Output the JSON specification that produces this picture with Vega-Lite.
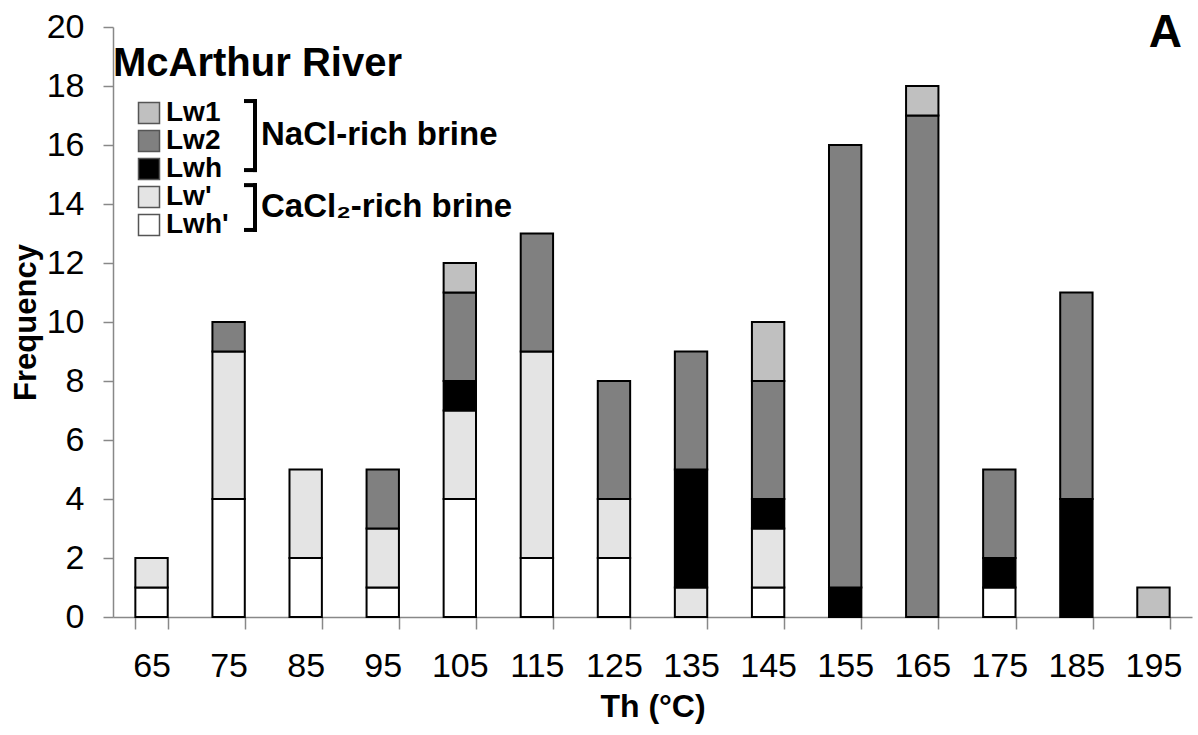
{
  "$schema": "https://vega.github.io/schema/vega-lite/v6.json",
  "width": 1079,
  "height": 590,
  "autosize": {"type": "none"},
  "padding": {"left": 113, "top": 27, "right": 6, "bottom": 118},
  "background": "white",
  "config": {"view": {"stroke": null}, "font": "Liberation Sans"},
  "datasets": {
    "counts": [
      {"th": 65, "type": "Lwh'", "brine": "CaCl2", "n": 1}, {"th": 65, "type": "Lw'", "brine": "CaCl2", "n": 1},
      {"th": 75, "type": "Lwh'", "brine": "CaCl2", "n": 4}, {"th": 75, "type": "Lw'", "brine": "CaCl2", "n": 5}, {"th": 75, "type": "Lw2", "brine": "NaCl", "n": 1},
      {"th": 85, "type": "Lwh'", "brine": "CaCl2", "n": 2}, {"th": 85, "type": "Lw'", "brine": "CaCl2", "n": 3},
      {"th": 95, "type": "Lwh'", "brine": "CaCl2", "n": 1}, {"th": 95, "type": "Lw'", "brine": "CaCl2", "n": 2}, {"th": 95, "type": "Lw2", "brine": "NaCl", "n": 2},
      {"th": 105, "type": "Lwh'", "brine": "CaCl2", "n": 4}, {"th": 105, "type": "Lw'", "brine": "CaCl2", "n": 3}, {"th": 105, "type": "Lwh", "brine": "NaCl", "n": 1}, {"th": 105, "type": "Lw2", "brine": "NaCl", "n": 3}, {"th": 105, "type": "Lw1", "brine": "NaCl", "n": 1},
      {"th": 115, "type": "Lwh'", "brine": "CaCl2", "n": 2}, {"th": 115, "type": "Lw'", "brine": "CaCl2", "n": 7}, {"th": 115, "type": "Lw2", "brine": "NaCl", "n": 4},
      {"th": 125, "type": "Lwh'", "brine": "CaCl2", "n": 2}, {"th": 125, "type": "Lw'", "brine": "CaCl2", "n": 2}, {"th": 125, "type": "Lw2", "brine": "NaCl", "n": 4},
      {"th": 135, "type": "Lw'", "brine": "CaCl2", "n": 1}, {"th": 135, "type": "Lwh", "brine": "NaCl", "n": 4}, {"th": 135, "type": "Lw2", "brine": "NaCl", "n": 4},
      {"th": 145, "type": "Lwh'", "brine": "CaCl2", "n": 1}, {"th": 145, "type": "Lw'", "brine": "CaCl2", "n": 2}, {"th": 145, "type": "Lwh", "brine": "NaCl", "n": 1}, {"th": 145, "type": "Lw2", "brine": "NaCl", "n": 4}, {"th": 145, "type": "Lw1", "brine": "NaCl", "n": 2},
      {"th": 155, "type": "Lwh", "brine": "NaCl", "n": 1}, {"th": 155, "type": "Lw2", "brine": "NaCl", "n": 15},
      {"th": 165, "type": "Lw2", "brine": "NaCl", "n": 17}, {"th": 165, "type": "Lw1", "brine": "NaCl", "n": 1},
      {"th": 175, "type": "Lwh'", "brine": "CaCl2", "n": 1}, {"th": 175, "type": "Lwh", "brine": "NaCl", "n": 1}, {"th": 175, "type": "Lw2", "brine": "NaCl", "n": 3},
      {"th": 185, "type": "Lwh", "brine": "NaCl", "n": 4}, {"th": 185, "type": "Lw2", "brine": "NaCl", "n": 7},
      {"th": 195, "type": "Lw1", "brine": "NaCl", "n": 1}
    ],
    "brackets": [{"th": 75, "top": 17.49, "bottom": 15.15}, {"th": 75, "top": 14.64, "bottom": 13.12}],
    "bracketEnds": [{"th": 75, "y": 17.49}, {"th": 75, "y": 15.15}, {"th": 75, "y": 14.64}, {"th": 75, "y": 13.12}],
    "groups": [{"th": 75, "y": 16.0, "label": "NaCl-rich brine"}, {"th": 75, "y": 13.56, "label": "CaCl₂-rich brine"}],
    "panel": [{"th": 195, "y": 19.32, "label": "A"}]
  },
  "layer": [
    {
      "data": {"name": "counts"},
      "transform": [
        {
          "stack": "n",
          "groupby": ["th"],
          "sort": [{"field": "brine", "order": "ascending"}, {"field": "type", "order": "descending"}],
          "as": ["n0", "n1"]
        }
      ],
      "mark": {"type": "bar", "stroke": "#000000", "strokeWidth": 2},
      "encoding": {
        "x": {
          "field": "th", "type": "ordinal", "title": "Th (°C)",
          "scale": {"paddingInner": 0.58, "paddingOuter": 0.29},
          "axis": {
            "labelAngle": 0, "labelFontSize": 34, "labelColor": "#000000", "labelPadding": 20,
            "tickSize": 12, "tickBand": "extent", "tickColor": "#888888", "domainColor": "#888888",
            "tickWidth": 1.5, "domainWidth": 1.5,
            "titleFontSize": 32, "titleFontWeight": "bold", "titleColor": "#000000", "titlePadding": 8
          }
        },
        "y": {
          "field": "n0", "type": "quantitative", "title": "Frequency",
          "scale": {"domain": [0, 20], "nice": false},
          "axis": {
            "values": [0, 2, 4, 6, 8, 10, 12, 14, 16, 18, 20],
            "grid": false, "labelFontSize": 34, "labelColor": "#000000", "labelPadding": 19,
            "tickSize": 10, "tickColor": "#888888", "domainColor": "#888888",
            "tickWidth": 1.5, "domainWidth": 1.5,
            "titleFontSize": 31, "titleFontWeight": "bold", "titleColor": "#000000", "titlePadding": 4
          }
        },
        "y2": {"field": "n1"},
        "color": {
          "field": "type", "type": "nominal",
          "scale": {
            "domain": ["Lw1", "Lw2", "Lwh", "Lw'", "Lwh'"],
            "range": ["#c0c0c0", "#808080", "#000000", "#e4e4e4", "#ffffff"]
          },
          "legend": {
            "orient": "none", "legendX": 0, "legendY": 17,
            "title": "McArthur River", "titleFontSize": 40, "titleFontWeight": "bold", "titleColor": "#000000",
            "titlePadding": 15, "titleLimit": 600,
            "labelFontSize": 28, "labelFontWeight": "bold", "labelColor": "#000000", "labelOffset": 3,
            "symbolType": "square", "symbolSize": 441, "symbolStrokeColor": "#555555", "symbolStrokeWidth": 1.5,
            "symbolOffset": 22, "rowPadding": 0, "padding": 0
          }
        }
      }
    },
    {
      "data": {"name": "brackets"},
      "mark": {"type": "rule", "color": "#000000", "strokeWidth": 4, "strokeCap": "square"},
      "encoding": {
        "x": {"field": "th", "type": "ordinal", "bandPosition": 1.315, "title": "Th (°C)"},
        "y": {"field": "top", "type": "quantitative", "title": "Frequency"},
        "y2": {"field": "bottom"}
      }
    },
    {
      "data": {"name": "bracketEnds"},
      "mark": {"type": "rule", "color": "#000000", "strokeWidth": 4},
      "encoding": {
        "x": {"field": "th", "type": "ordinal", "bandPosition": 0.975, "title": "Th (°C)"},
        "x2": {"field": "th", "bandPosition": 1.375},
        "y": {"field": "y", "type": "quantitative", "title": "Frequency"}
      }
    },
    {
      "data": {"name": "groups"},
      "mark": {"type": "text", "align": "left", "baseline": "alphabetic", "fontSize": 33, "fontWeight": "bold", "color": "#000000"},
      "encoding": {
        "x": {"field": "th", "type": "ordinal", "bandPosition": 1.5, "title": "Th (°C)"},
        "y": {"field": "y", "type": "quantitative", "title": "Frequency"},
        "text": {"field": "label"}
      }
    },
    {
      "data": {"name": "panel"},
      "mark": {"type": "text", "align": "right", "baseline": "alphabetic", "fontSize": 46, "fontWeight": "bold", "color": "#000000"},
      "encoding": {
        "x": {"field": "th", "type": "ordinal", "bandPosition": 1.38, "title": "Th (°C)"},
        "y": {"field": "y", "type": "quantitative", "title": "Frequency"},
        "text": {"field": "label"}
      }
    }
  ]
}
